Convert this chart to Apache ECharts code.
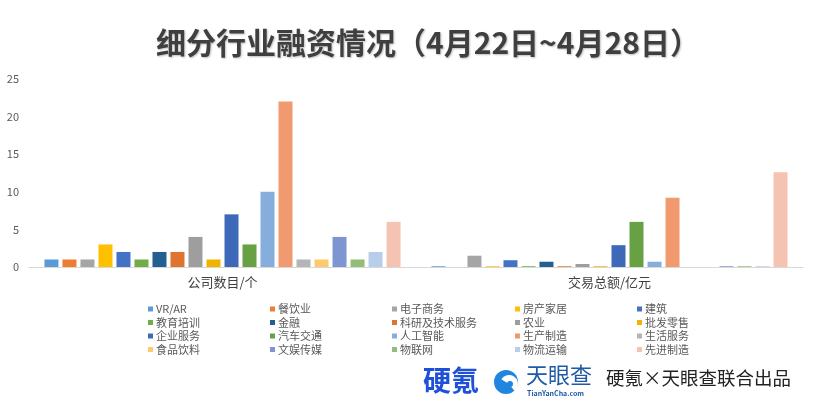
<!DOCTYPE html>
<html>
<head>
<meta charset="utf-8">
<script src="https://cdn.jsdelivr.net/npm/echarts@6/dist/echarts.min.js"></script>
<style>
html,body{margin:0;padding:0;background:#fff;}
#main{width:819px;height:404px;}
</style>
</head>
<body>
<div id="main"></div>
<script>
// ---- data ----
const titleText = '细分行业融资情况（4月22日~4月28日）';
const categories = ['公司数目/个', '交易总额/亿元'];
const industries = ['VR/AR', '餐饮业', '电子商务', '房产家居', '建筑',
  '教育培训', '金融', '科研及技术服务', '农业', '批发零售',
  '企业服务', '汽车交通', '人工智能', '生产制造', '生活服务',
  '食品饮料', '文娱传媒', '物联网', '物流运输', '先进制造'];
const companyCounts = [1, 1, 1, 3, 2, 1, 2, 2, 4, 1, 7, 3, 10, 22, 1, 1, 4, 1, 2, 6];
const dealAmounts = [0.1, 0, 1.5, 0.1, 0.9, 0.1, 0.7, 0.1, 0.4, 0.1, 2.9, 6.0, 0.7, 9.2, 0, 0, 0.1, 0.1, 0.1, 12.6];
const yTicks = [0, 5, 10, 15, 20, 25];
const colors = ['#5B9BD5', '#ED7D31', '#A5A5A5', '#FFC000', '#4472C4',
  '#70AD47', '#255E91', '#DF7430', '#9E9E9E', '#F0B400',
  '#3E69B8', '#68A143', '#85AEDC', '#F19A6F', '#B5B5B5',
  '#FFCA6B', '#7D95D0', '#93BD7B', '#B8CDE9', '#F5C3B1'];

// ---- chart ----
const chart = echarts.init(document.getElementById('main'), null, {renderer: 'canvas'});
const FONT = '"Noto Sans CJK SC", "Noto Sans", sans-serif';

const series = industries.map((name, i) => ({
  name: name,
  type: 'bar',
  barWidth: 14,
  barGap: '28.6%',
  itemStyle: {color: colors[i]},
  data: [companyCounts[i], dealAmounts[i]]
}));

const colLefts = [143, 265, 387, 510, 632];
const legends = colLefts.map((lx, c) => ({
  orient: 'vertical',
  left: lx,
  top: 298,
  itemWidth: 5,
  itemHeight: 5,
  itemGap: 1.5,
  icon: 'rect',
  selectedMode: false,
  textStyle: {color: '#595959', fontSize: 11, fontFamily: FONT, lineHeight: 12, padding: [0, 0, 0, -2]},
  data: [0, 1, 2, 3].map(r => industries[r * 5 + c])
}));

chart.setOption({
  animation: false,
  backgroundColor: '#ffffff',
  color: colors,
  title: {
    text: titleText,
    left: 151,
    top: 23,
    textStyle: {
      fontFamily: FONT, fontWeight: 'bold', fontSize: 30, color: '#3F3F3F',
      textShadowColor: 'rgba(0,0,0,0.25)', textShadowBlur: 2, textShadowOffsetX: 1, textShadowOffsetY: 1
    }
  },
  legend: legends,
  grid: {left: 29, right: 16, top: 79, bottom: 137, containLabel: false},
  xAxis: {
    type: 'category',
    data: categories,
    axisTick: {show: false},
    axisLine: {lineStyle: {color: '#D9D9D9', width: 1}},
    axisLabel: {color: '#404040', fontSize: 13, fontFamily: FONT, margin: 9}
  },
  yAxis: {
    type: 'value',
    min: yTicks[0],
    max: yTicks[yTicks.length - 1],
    interval: yTicks[1] - yTicks[0],
    axisLine: {show: false},
    axisTick: {show: false},
    splitLine: {show: false},
    axisLabel: {color: '#595959', fontSize: 11, fontFamily: FONT, margin: 10}
  },
  series: series,
  graphic: [
    {type: 'text', left: 423, top: 366, style: {text: '硬氪', font: 'bold 28px ' + FONT, fill: '#1E50D8'}},
    {type: 'circle', shape: {cx: 506, cy: 382, r: 12}, style: {fill: '#1F86E0'}},
    {type: 'sector', shape: {cx: 509, cy: 384, r: 9, r0: 0, startAngle: -2.6, endAngle: 0.9}, style: {fill: '#ffffff'}},
    {type: 'circle', shape: {cx: 510, cy: 384, r: 3}, style: {fill: '#1F86E0'}},
    {type: 'text', left: 526, top: 364, style: {text: '天眼查', font: '22px ' + FONT, fill: '#1F5AA6'}},
    {type: 'text', left: 527, top: 390, style: {text: 'TianYanCha.com', font: 'bold 7px ' + FONT, fill: '#1F5AA6'}},
    {type: 'text', left: 606, top: 369, style: {text: '硬氪×天眼查联合出品', font: '18.5px ' + FONT, fill: '#222222'}}
  ]
});
</script>
</body>
</html>
